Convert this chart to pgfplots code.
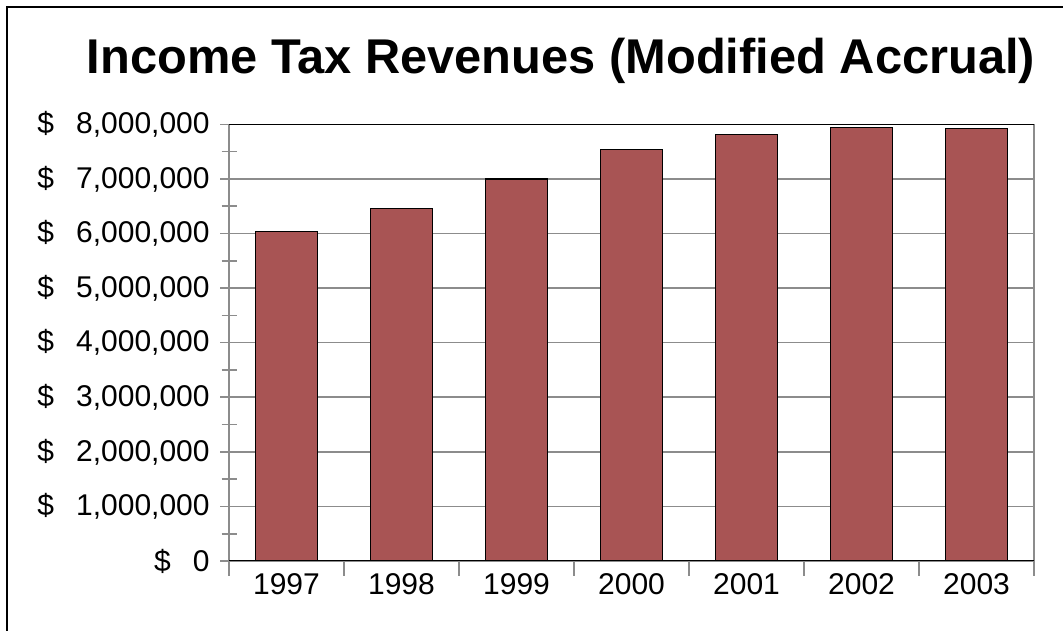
\documentclass[border=0pt]{standalone}
\usepackage{pgfplots}
\pgfplotsset{compat=1.18}
\usepackage{fontspec}
\setmainfont{Liberation Sans}
\definecolor{barred}{RGB}{168,84,84}
\definecolor{gridgray}{RGB}{140,140,140}
\begin{document}
\begin{tikzpicture}[x=0.5bp,y=0.5bp]
\useasboundingbox (0,0) rectangle (1063,631);
\begin{axis}[
  at={(114.5bp,35bp)}, anchor=south west,
  scale only axis, width=402.5bp, height=218.3bp,
  xmin=-0.5, xmax=6.5, ymin=0, ymax=8000000,
  xtick pos=bottom, ytick pos=left,
  xtick={0,1,2,3,4,5,6},
  xticklabels={1997,1998,1999,2000,2001,2002,2003},
  minor xtick={-0.5,0.5,1.5,2.5,3.5,4.5,5.5,6.5},
  ytick={0,1000000,2000000,3000000,4000000,5000000,6000000,7000000,8000000},
  minor ytick={500000,1500000,2500000,3500000,4500000,5500000,6500000,7500000},
  yticklabels={{\$\hspace{11bp}0},{\$\hspace{11bp}1,000,000},{\$\hspace{11bp}2,000,000},{\$\hspace{11bp}3,000,000},{\$\hspace{11bp}4,000,000},{\$\hspace{11bp}5,000,000},{\$\hspace{11bp}6,000,000},{\$\hspace{11bp}7,000,000},{\$\hspace{11bp}8,000,000}},
  scaled y ticks=false,
  ymajorgrids,
  major grid style={gridgray, line width=0.8bp},
  tick align=center, major tick length=9bp, minor tick length=7.5bp,
  tick style={gridgray, line width=0.8bp},
  major x tick style={draw=none},
  axis line style={gridgray, line width=0.8bp},
  tick label style={font=\fontsize{15bp}{18bp}\selectfont},
  yticklabel style={anchor=east, inner sep=0pt, xshift=-5bp},
  xticklabel style={anchor=base, inner sep=0pt, yshift=-8bp},
  ybar, bar width=31.2bp, bar shift=0pt,
]
\addplot[fill=barred, draw=black, line width=0.6bp] coordinates {(0,6030000) (1,6460000) (2,7000000) (3,7545000) (4,7820000) (5,7940000) (6,7930000)};
\draw[black, line width=0.8bp] (rel axis cs:0,1) -- (rel axis cs:1,1);
\draw[black, line width=0.8bp] (rel axis cs:0,0) -- (rel axis cs:1,0);
\end{axis}
\node[anchor=base, inner sep=0pt, font=\fontsize{24.4bp}{29bp}\selectfont\bfseries] at (561,557.7) {Income Tax Revenues (Modified Accrual)};
\draw[line width=1bp] (6.7,0) -- (6.7,624) -- (1063,624);
\end{tikzpicture}
\end{document}
